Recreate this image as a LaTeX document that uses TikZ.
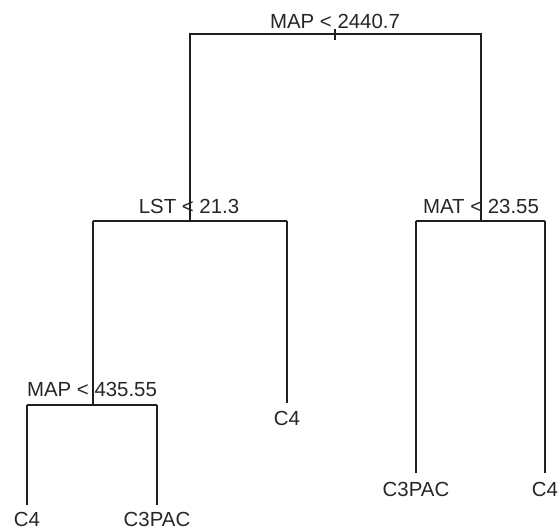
\documentclass[tikz,border=0pt]{standalone}
\usepackage{fontspec}
\setmainfont{Liberation Sans}
\begin{document}
\begin{tikzpicture}[x=1pt,y=-1pt,
  edge/.style={draw=black!88, line width=1.4pt, line cap=butt},
  lab/.style={inner sep=0pt, anchor=base, text=black!85, font=\fontsize{20.4}{24}\selectfont}]
\useasboundingbox (0,0) rectangle (560,530);
% split points
\coordinate (r) at (335,34);
\coordinate (rL) at (190,34);
\coordinate (rR) at (481,34);
\coordinate (tA) at (335,29);
\coordinate (tB) at (335,40);
\coordinate (l) at (190,221);
\coordinate (lL) at (93,221);
\coordinate (lR) at (287,221);
\coordinate (m) at (481,221);
\coordinate (mL) at (416,221);
\coordinate (mR) at (545,221);
\coordinate (p) at (93,405);
\coordinate (pL) at (27,405);
\coordinate (pR) at (157,405);
% leaf ends
\coordinate (e1) at (27,505);
\coordinate (e2) at (157,505);
\coordinate (e3) at (287,403);
\coordinate (e4) at (416,473);
\coordinate (e5) at (545,473);
% labels
\node[lab] (n0) at (335,28) {MAP < 2440.7};
\node[lab] (n1) at (189,213) {LST < 21.3};
\node[lab] (n2) at (481,213) {MAT < 23.55};
\node[lab] (n3) at (92,396) {MAP < 435.55};
\node[lab] (f1) at (27,526) {C4};
\node[lab] (f2) at (157,526) {C3PAC};
\node[lab] (f3) at (287,425) {C4};
\node[lab] (f4) at (416,496) {C3PAC};
\node[lab] (f5) at (545,496) {C4};
% edges
\draw[edge] (tA) -- (tB);
\draw[edge] (l) -- (rL) -- (rR) -- (m);
\draw[edge] (lL) -- (lR);
\draw[edge] (mL) -- (mR);
\draw[edge] (p) -- (lL);
\draw[edge] (lR) -- (e3);
\draw[edge] (pL) -- (pR);
\draw[edge] (pL) -- (e1);
\draw[edge] (pR) -- (e2);
\draw[edge] (mL) -- (e4);
\draw[edge] (mR) -- (e5);
\end{tikzpicture}
\end{document}
